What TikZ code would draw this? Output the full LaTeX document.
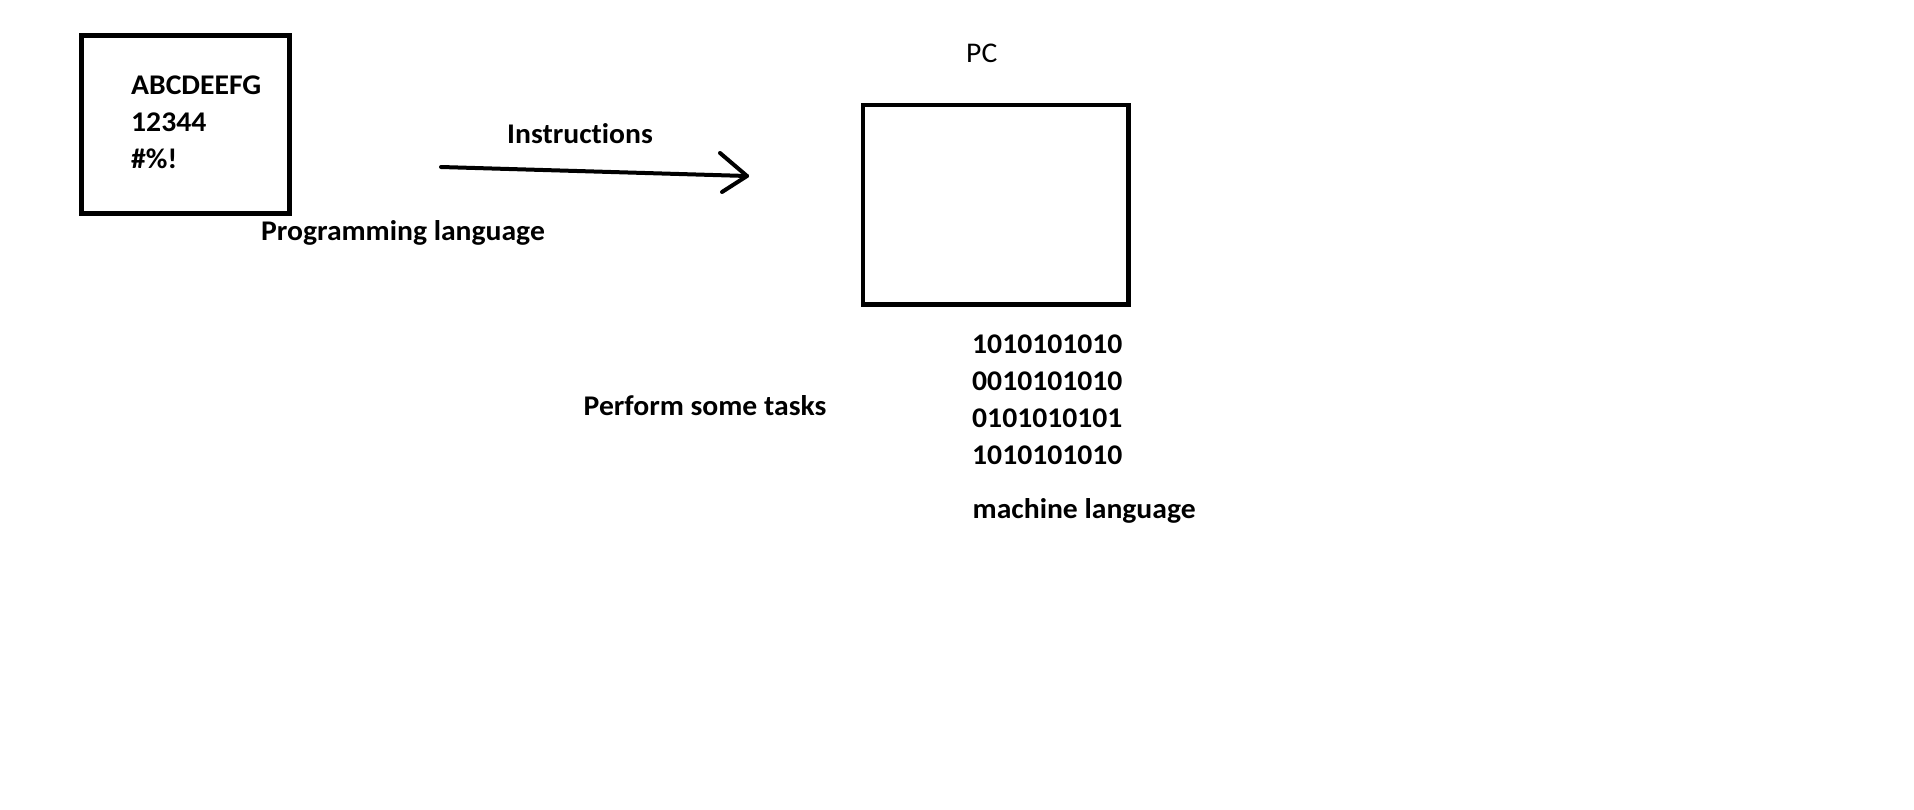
\documentclass[tikz,border=0pt]{standalone}
\usepackage{fontspec}
\setmainfont{Carlito}[FakeStretch=1.04,Ligatures=NoCommon]
\begin{document}
\begin{tikzpicture}[x=1pt,y=-1pt,
  txt/.style={anchor=base west,inner sep=0pt,font=\fontsize{28.5}{37}\selectfont\bfseries},
  plain/.style={anchor=base west,inner sep=0pt,font=\fontsize{28.5}{37}\selectfont},
  box/.style={draw,line width=4.7pt,inner sep=0pt},
  stroke/.style={line width=4pt,line cap=round,line join=round}]
\useasboundingbox[fill=white] (0,0) rectangle (1914,809);
% left box
\node[box,minimum width=207.6pt,minimum height=177.6pt] (prog) at (185.5,124.5) {};
\node[txt] (t1) at (131,94) {ABCDEEFG};
\node[txt] (t2) at (131,131) {12344};
\node[txt] (t3) at (131,168) {\#\%!};
\node[txt] (plang) at (261,240) {Programming language};
% arrow
\coordinate (a1) at (441,167);
\coordinate (a2) at (747,176);
\coordinate (h1) at (720,153);
\coordinate (h2) at (722,192);
\draw[stroke] (a1) -- (a2);
\draw[stroke] (h1) -- (a2) -- (h2);
\node[txt] (instr) at (507,143) {Instructions};
% PC
\node[plain] (pclabel) at (966,62.7) {PC};
\node[box,minimum width=265.4pt,minimum height=199.3pt] (pc) at (995.7,204.65) {};
\node[txt] (b1) at (972,353) {1010101010};
\node[txt] (b2) at (972,390) {0010101010};
\node[txt] (b3) at (972,427) {0101010101};
\node[txt] (b4) at (972,464) {1010101010};
\node[txt] (mlang) at (972.5,518) {machine language};
\node[txt] (tasks) at (583.5,415) {Perform some tasks};
\end{tikzpicture}
\end{document}
